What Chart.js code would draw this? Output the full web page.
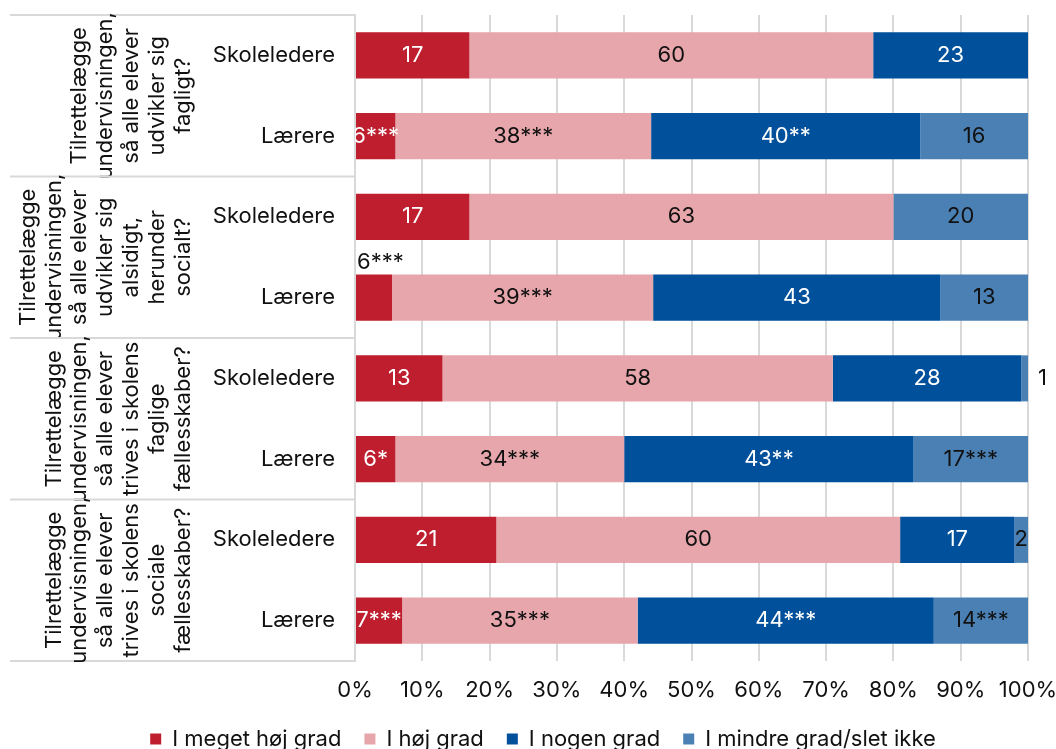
<!DOCTYPE html>
<html lang="da">
<head>
<meta charset="utf-8">
<title>Tilrettelæggelse af undervisningen</title>
<script src="https://cdn.jsdelivr.net/npm/chart.js@4.4.1/dist/chart.umd.min.js"></script>
<style>
  html, body { margin: 0; padding: 0; background: #fff; overflow: hidden; }
  #wrap { position: relative; width: 1056px; height: 760px; }
</style>
</head>
<body>
<div id="wrap"><canvas id="chart"></canvas></div>
<script>
// Respondent groups, two bars per question
const respondents = ['Skoleledere', 'Lærere', 'Skoleledere', 'Lærere',
                     'Skoleledere', 'Lærere', 'Skoleledere', 'Lærere'];

// Question text, one entry per pair of bars (line by line)
const questions = [
  ['Tilrettelægge', 'undervisningen,', 'så alle elever', 'udvikler sig', 'fagligt?'],
  ['Tilrettelægge', 'undervisningen,', 'så alle elever', 'udvikler sig', 'alsidigt,', 'herunder', 'socialt?'],
  ['Tilrettelægge', 'undervisningen,', 'så alle elever', 'trives i skolens', 'faglige', 'fællesskaber?'],
  ['Tilrettelægge', 'undervisningen,', 'så alle elever', 'trives i skolens', 'sociale', 'fællesskaber?']
];

const seriesNames = ['I meget høj grad', 'I høj grad', 'I nogen grad', 'I mindre grad/slet ikke'];

// Shares in percent
const megetHoejGrad = [17, 6, 17, 5.5, 13, 6, 21, 7];
const hoejGrad      = [60, 38, 63, 38.8, 58, 34, 60, 35];
const nogenGrad     = [23, 40, 0, 42.7, 28, 43, 17, 44];
const mindreGrad    = [0, 16, 20, 13, 1, 17, 2, 14];

// Significance markers printed after each value
const sigMegetHoej = ['', '***', '', '***', '', '*', '', '***'];
const sigHoej      = ['', '***', '', '***', '', '***', '', '***'];
const sigNogen     = ['', '**', '', '', '', '**', '', '***'];
const sigMindre    = ['', '', '', '', '', '***', '', '***'];

const percentTicks = ['0%', '10%', '20%', '30%', '40%', '50%', '60%', '70%', '80%', '90%', '100%'];

const seriesColors = ['#BE1E2D', '#E6A6AB', '#00509B', '#4A80B4'];
const labelColors  = ['#ffffff', '#111111', '#ffffff', '#111111'];
const allValues = [megetHoejGrad, hoejGrad, nogenGrad, mindreGrad];
const allSig = [sigMegetHoej, sigHoej, sigNogen, sigMindre];

// Labels that sit outside their (narrow) segment: "dataset-index" -> placement
const outsideLabels = { '0-3': 'above', '3-4': 'right' };

const FONT = 'Inter, "Noto Sans", sans-serif';
const FONT_SIZE = 22;
const TEXT = '#111111';

Chart.defaults.font.family = FONT;
Chart.defaults.font.size = FONT_SIZE;
Chart.defaults.color = TEXT;

// Value labels on each segment
const valueLabels = {
  id: 'valueLabels',
  afterDatasetsDraw(chart) {
    const { ctx, chartArea } = chart;
    ctx.save();
    ctx.beginPath();
    ctx.rect(chartArea.left, 0, chart.width - chartArea.left, chart.height);
    ctx.clip();
    ctx.font = FONT_SIZE + 'px ' + FONT;
    chart.data.datasets.forEach((ds, di) => {
      const meta = chart.getDatasetMeta(di);
      meta.data.forEach((bar, i) => {
        const v = ds.data[i];
        if (!v) return;
        const text = Math.round(v) + allSig[di][i];
        const place = outsideLabels[di + '-' + i];
        const left = Math.min(bar.x, bar.base);
        const right = Math.max(bar.x, bar.base);
        ctx.textBaseline = 'middle';
        if (place === 'above') {
          ctx.fillStyle = TEXT;
          ctx.textAlign = 'left';
          ctx.fillText(text, left + 1, bar.y - bar.height / 2 - 12);
        } else if (place === 'right') {
          ctx.fillStyle = TEXT;
          ctx.textAlign = 'left';
          ctx.fillText(text, right + 10, bar.y);
        } else {
          ctx.fillStyle = labelColors[di];
          ctx.textAlign = 'center';
          ctx.fillText(text, (left + right) / 2, bar.y);
        }
      });
    });
    ctx.restore();
  }
};

// Question labels (rotated) and the separators between question blocks
const questionLabels = {
  id: 'questionLabels',
  afterDraw(chart) {
    const { ctx, chartArea, scales: { y } } = chart;
    const step = y.getPixelForValue(1) - y.getPixelForValue(0);
    const lineX0 = 10;
    const lineX1 = chartArea.left - 1;
    const lineGap = 25.8;
    const lastLineX = chartArea.left - 172;
    ctx.save();
    ctx.strokeStyle = '#d9d9d9';
    ctx.lineWidth = 2;
    ctx.fillStyle = TEXT;
    ctx.font = FONT_SIZE + 'px ' + FONT;
    ctx.textAlign = 'center';
    ctx.textBaseline = 'middle';
    questions.forEach((lines, g) => {
      const top = y.getPixelForValue(g * 2) - step / 2;
      const bottom = y.getPixelForValue(g * 2 + 1) + step / 2;
      ctx.beginPath();
      ctx.moveTo(lineX0, top);
      ctx.lineTo(lineX1, top);
      if (g === questions.length - 1) {
        ctx.moveTo(lineX0, bottom);
        ctx.lineTo(lineX1, bottom);
      }
      ctx.stroke();
      const cy = (top + bottom) / 2;
      const n = lines.length;
      lines.forEach((line, i) => {
        const x = lastLineX - (n - 1 - i) * lineGap;
        ctx.save();
        ctx.translate(x, cy);
        ctx.rotate(-Math.PI / 2);
        ctx.fillText(line, 0, 0);
        ctx.restore();
      });
    });
    ctx.restore();
  }
};

new Chart(document.getElementById('chart'), {
  type: 'bar',
  data: {
    labels: respondents,
    datasets: allValues.map((vals, i) => ({
      label: seriesNames[i],
      data: vals,
      backgroundColor: seriesColors[i],
      borderWidth: 0,
      barPercentage: 0.57,
      categoryPercentage: 1
    }))
  },
  options: {
    indexAxis: 'y',
    responsive: true,
    maintainAspectRatio: false,
    animation: false,
    layout: { padding: { left: 58, right: 28, top: 15, bottom: 0 } },
    scales: {
      x: {
        stacked: true,
        min: 0,
        max: 100,
        ticks: {
          stepSize: 10,
          padding: 16,
          color: TEXT,
          maxRotation: 0,
          callback: (v, i) => percentTicks[i]
        },
        grid: { color: '#d9d9d9', lineWidth: 2, drawTicks: false },
        border: { display: false },
        afterFit: (scale) => {
          scale.height = 44;
          scale.paddingLeft = 0;
          scale.paddingRight = 0;
        }
      },
      y: {
        stacked: true,
        ticks: { padding: 20, color: TEXT },
        grid: { display: false, drawTicks: false },
        border: { display: true, color: '#d9d9d9', width: 2 },
        afterFit: (scale) => {
          scale.width = 297;
          scale.paddingTop = 0;
          scale.paddingBottom = 0;
        }
      }
    },
    plugins: {
      legend: {
        position: 'bottom',
        labels: {
          boxWidth: 11,
          boxHeight: 11,
          padding: 23,
          color: TEXT,
          font: { size: FONT_SIZE }
        }
      },
      tooltip: { enabled: false }
    }
  },
  plugins: [valueLabels, questionLabels]
});
</script>
</body>
</html>
